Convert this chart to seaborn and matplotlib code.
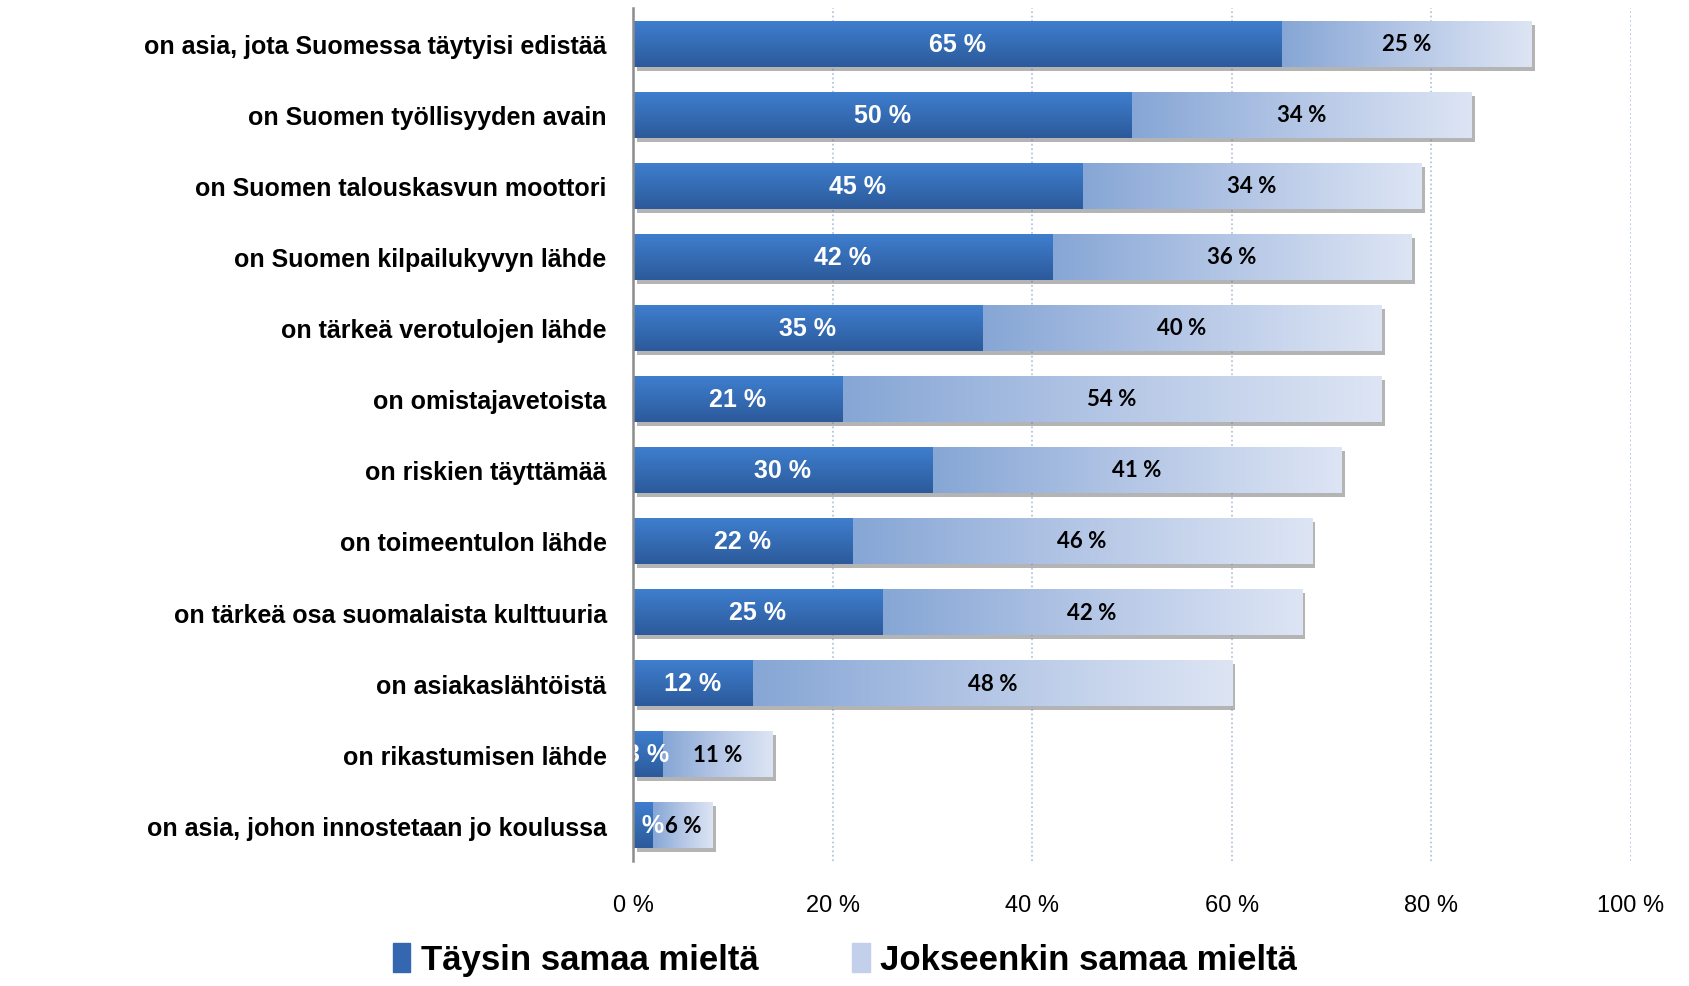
import numpy as np
import pandas as pd
import matplotlib
matplotlib.use('Agg')
import matplotlib.pyplot as plt
import matplotlib.patches as mpatches
import matplotlib.patheffects as pe
from matplotlib.colors import LinearSegmentedColormap
import seaborn as sns

categories = [
    "on asia, jota Suomessa täytyisi edistää",
    "on Suomen työllisyyden avain",
    "on Suomen talouskasvun moottori",
    "on Suomen kilpailukyvyn lähde",
    "on tärkeä verotulojen lähde",
    "on omistajavetoista",
    "on riskien täyttämää",
    "on toimeentulon lähde",
    "on tärkeä osa suomalaista kulttuuria",
    "on asiakaslähtöistä",
    "on rikastumisen lähde",
    "on asia, johon innostetaan jo koulussa",
]
taysin = [65, 50, 45, 42, 35, 21, 30, 22, 25, 12, 3, 2]
jokseenkin = [25, 34, 34, 36, 40, 54, 41, 46, 42, 48, 11, 6]
x_ticks = [0, 20, 40, 60, 80, 100]
tick_labels = [f"{t} %" for t in x_ticks]
series_names = ["Täysin samaa mieltä", "Jokseenkin samaa mieltä"]

df = pd.DataFrame({"kategoria": categories, "taysin": taysin, "jokseenkin": jokseenkin})
df["yhteensa"] = df["taysin"] + df["jokseenkin"]

sns.set_style("white")
plt.rcParams['font.family'] = ['Liberation Sans', 'DejaVu Sans']
plt.rcParams['text.color'] = 'black'
plt.rcParams['xtick.color'] = 'black'
plt.rcParams['ytick.color'] = 'black'

dark_cmap = LinearSegmentedColormap.from_list("tumma", ["#3f7fcf", "#2c5a9b"])
light_cmap = LinearSegmentedColormap.from_list("vaalea", ["#86a6d5", "#b5c7e6", "#dde5f4"])

fig = plt.figure(figsize=(16.9, 9.87), dpi=100)
ax = fig.add_axes([0.3746, 0.127, 0.5905, 0.8637])

sns.barplot(data=df, x="yhteensa", y="kategoria", color="#c9d6ee", width=0.65,
            saturation=1, ax=ax)
sns.barplot(data=df, x="taysin", y="kategoria", color="#3566b0", width=0.65,
            saturation=1, ax=ax)

n = len(df)
shadow = [pe.SimplePatchShadow(offset=(2.5, -3), shadow_rgbFace="#777777", alpha=0.55), pe.Normal()]
total_bars = ax.patches[:n]
dark_bars = ax.patches[n:2 * n]

# gradientit palkkien päälle
for i, (pt, pd_) in enumerate(zip(total_bars, dark_bars)):
    pt.set_path_effects(shadow)
    pt.set_edgecolor("none")
    pd_.set_edgecolor("none")
    y0 = pt.get_y()
    y1 = y0 + pt.get_height()
    d = df["taysin"].iloc[i]
    t = df["yhteensa"].iloc[i]
    im = ax.imshow(np.linspace(0, 1, 256).reshape(1, -1), cmap=light_cmap, aspect="auto",
                   extent=(d, t, y1, y0), origin="upper", zorder=1.2)
    im.set_clip_path(pt)
    im2 = ax.imshow(np.linspace(0, 1, 64).reshape(-1, 1), cmap=dark_cmap, aspect="auto",
                    extent=(0, d, y1, y0), origin="upper", zorder=1.3)
    im2.set_clip_path(pd_)

for i in range(n):
    d = df["taysin"].iloc[i]
    j = df["jokseenkin"].iloc[i]
    ax.text(d / 2, i, f"{d} %", color="white", fontsize=18, fontweight="bold",
            ha="center", va="center", zorder=3, clip_on=True)
    ax.text(d + j / 2, i, f"{j} %", color="black", fontsize=16, fontweight="bold",
            family=["Lato", "DejaVu Sans"], ha="center", va="center", zorder=3)

ax.set_xlim(0, 100)
ax.set_ylim(n - 0.5, -0.5)
ax.set_xticks(x_ticks)
ax.set_xticklabels(tick_labels, fontsize=17)
ax.tick_params(axis="x", length=0, pad=24)
ax.tick_params(axis="y", length=0, pad=19, labelsize=18)
for lbl in ax.get_yticklabels():
    lbl.set_fontweight("bold")
ax.set_xlabel("")
ax.set_ylabel("")

ax.xaxis.grid(True, linestyle=":", color="#a9bddb", linewidth=1.2)
ax.set_axisbelow(True)
for s in ["top", "right", "bottom"]:
    ax.spines[s].set_visible(False)
ax.spines["left"].set_color("#8c8c8c")
ax.spines["left"].set_linewidth(1.8)
ax.spines["left"].set_zorder(4)

handles = [mpatches.Patch(color="#3566b0", label=series_names[0]),
           mpatches.Patch(color="#c3d0ec", label=series_names[1])]
fig.legend(handles=handles, loc="lower center", bbox_to_anchor=(0.5, -0.022), ncol=2,
           frameon=False, handlelength=0.5, handleheight=0.9, handletextpad=0.3,
           columnspacing=2.7, prop={"weight": "bold", "size": 25})

plt.savefig("out.png", dpi=100)
